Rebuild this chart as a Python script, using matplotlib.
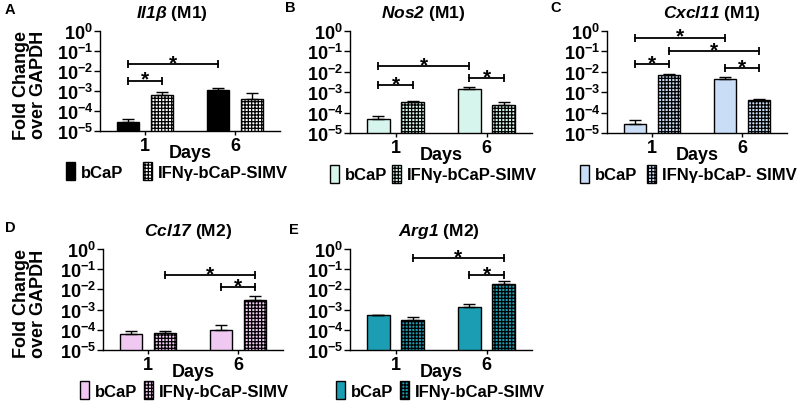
import numpy as np
import matplotlib
matplotlib.use("Agg")
import matplotlib.pyplot as plt
from matplotlib.patches import Patch

# === Data (log scale) ===
days = ["1", "6"]
series = ["bCaP", "IFNγ-bCaP-SIMV"]

il1b_bcap = [2.7e-5, 1.1e-3]
il1b_bcap_err = [1.3e-5, 2.8e-4]
il1b_ifn = [6.6e-4, 4.0e-4]
il1b_ifn_err = [2.3e-4, 3.6e-4]

nos2_bcap = [4.9e-5, 1.5e-3]
nos2_bcap_err = [1.7e-5, 2.0e-4]
nos2_ifn = [3.4e-4, 2.3e-4]
nos2_ifn_err = [4.0e-5, 1.2e-4]

cxcl11_bcap = [2.8e-5, 4.3e-3]
cxcl11_bcap_err = [1.7e-5, 1.0e-3]
cxcl11_ifn = [6.6e-3, 4.3e-4]
cxcl11_ifn_err = [1.2e-3, 4.0e-5]

ccl17_bcap = [6.0e-5, 9.5e-5]
ccl17_bcap_err = [2.9e-5, 7.5e-5]
ccl17_ifn = [6.8e-5, 3.1e-3]
ccl17_ifn_err = [1.7e-5, 1.4e-3]

arg1_bcap = [5.4e-4, 1.4e-3]
arg1_bcap_err = [2.0e-5, 6.0e-4]
arg1_ifn = [3.1e-4, 1.9e-2]
arg1_ifn_err = [1.1e-4, 8.0e-3]

# significance brackets: (bar a, bar b, height); bars 0=bCaP d1, 1=IFN d1, 2=bCaP d6, 3=IFN d6
il1b_sig = [(0, 1, 3.3e-3), (0, 2, 2.3e-2)]
nos2_sig = [(0, 1, 2.3e-3), (0, 2, 1.9e-2), (2, 3, 4.9e-3)]
cxcl11_sig = [(0, 2, 0.48), (1, 3, 0.10), (0, 1, 0.023), (2, 3, 0.015)]
ccl17_sig = [(1, 3, 0.052), (2, 3, 0.0126)]
arg1_sig = [(1, 3, 0.35), (2, 3, 0.052)]

# === Style ===
plt.rcParams["font.family"] = ["Liberation Sans", "DejaVu Sans"]
plt.rcParams["font.weight"] = "bold"
plt.rcParams["mathtext.fontset"] = "custom"
plt.rcParams["mathtext.rm"] = "Liberation Sans:italic:bold"   # gene names (digits too)
plt.rcParams["mathtext.it"] = "Liberation Sans:italic:bold"
plt.rcParams["mathtext.bf"] = "Liberation Sans:bold"          # tick labels
plt.rcParams["hatch.linewidth"] = 0.9

fig = plt.figure(figsize=(8, 4.06), dpi=100)
W, H = 800, 406


def px_axes(x0, y0, x1, y1):
    return fig.add_axes([x0 / W, 1 - y1 / H, (x1 - x0) / W, (y1 - y0) / H])


panels = [
    dict(letter="A", rect=(100, 32, 280, 132), gene=r"$\mathit{Il1\beta}$", tag="(M1)",
         bcap=il1b_bcap, bcap_err=il1b_bcap_err, ifn=il1b_ifn, ifn_err=il1b_ifn_err,
         sig=il1b_sig, color="black", ifn_face="white", ylabel=True,
         title_x=0.40, leg_right=288, colsp=1.2, ifn_name=series[1], lpos=(5, 10)),
    dict(letter="B", rect=(350, 32, 532, 134), gene=r"$\mathit{Nos2}$", tag="(M1)",
         bcap=nos2_bcap, bcap_err=nos2_bcap_err, ifn=nos2_ifn, ifn_err=nos2_ifn_err,
         sig=nos2_sig, color="#d6f5ec", ifn_face="#d6f5ec", ylabel=False,
         title_x=0.40, leg_right=537, colsp=0.3, ifn_name=series[1], lpos=(285, 8)),
    dict(letter="C", rect=(607, 32, 787, 134), gene=r"$\mathit{Cxcl11}$", tag="(M1)",
         bcap=cxcl11_bcap, bcap_err=cxcl11_bcap_err, ifn=cxcl11_ifn, ifn_err=cxcl11_ifn_err,
         sig=cxcl11_sig, color="#c9ddf6", ifn_face="#c9ddf6", ylabel=False,
         title_x=0.58, leg_right=797, colsp=0.6, ifn_name="IFNγ-bCaP- SIMV", lpos=(550, 8)),
    dict(letter="D", rect=(103, 250, 283, 351), gene=r"$\mathit{Ccl17}$", tag="(M2)",
         bcap=ccl17_bcap, bcap_err=ccl17_bcap_err, ifn=ccl17_ifn, ifn_err=ccl17_ifn_err,
         sig=ccl17_sig, color="#f0c9f3", ifn_face="#f0c9f3", ylabel=True,
         title_x=0.47, leg_right=289, colsp=0.4, ifn_name=series[1], lpos=(5, 228)),
    dict(letter="E", rect=(350, 250, 532, 351), gene=r"$\mathit{Arg1}$", tag="(M2)",
         bcap=arg1_bcap, bcap_err=arg1_bcap_err, ifn=arg1_ifn, ifn_err=arg1_ifn_err,
         sig=arg1_sig, color="#1b9db3", ifn_face="#1b9db3", ylabel=False,
         title_x=0.49, leg_right=545, colsp=0.4, ifn_name=series[1], lpos=(289, 230)),
]

x = np.arange(len(days))
off, bw = 0.19, 0.25
fs = 13
hatch = "+++++"
decades = [1e-5, 1e-4, 1e-3, 1e-2, 1e-1, 1e0]
dec_labels = [r"$\mathbf{10^{%d}}$" % int(np.log10(v)) for v in decades]

for p in panels:
    ax = px_axes(*p["rect"])
    ax.set_yscale("log")
    ax.bar(x - off, p["bcap"], bw, color=p["color"], edgecolor="black", linewidth=1,
           yerr=[np.zeros(2), p["bcap_err"]], capsize=4,
           error_kw=dict(elinewidth=1, capthick=1, ecolor="black"), zorder=2)
    ax.bar(x + off, p["ifn"], bw, color=p["ifn_face"], edgecolor="black", linewidth=1,
           hatch=hatch, yerr=[np.zeros(2), p["ifn_err"]], capsize=4,
           error_kw=dict(elinewidth=1, capthick=1, ecolor="black"), zorder=2)
    ax.set_ylim(1e-5, 1)
    ax.set_xlim(-0.5, 1.5)
    ax.set_yticks(decades)
    ax.set_yticklabels(dec_labels, fontsize=fs)
    ax.set_xticks(x)
    ax.set_xticklabels(days, fontsize=fs, fontweight="bold")
    ax.tick_params(axis="y", which="major", length=4, width=1, pad=1)
    ax.tick_params(axis="y", which="minor", length=1.5, width=0.6)
    ax.tick_params(axis="x", length=3, width=1, pad=1)
    for s in ["top", "right"]:
        ax.spines[s].set_visible(False)
    for s in ["left", "bottom"]:
        ax.spines[s].set_linewidth(1)
    ax.set_xlabel("Days", fontsize=fs, fontweight="bold", labelpad=-7)

    # significance brackets
    centers = [x[0] - off, x[0] + off, x[1] - off, x[1] + off]
    for a, b, yv in p["sig"]:
        xa, xb = centers[a], centers[b]
        ax.plot([xa, xb], [yv, yv], color="black", lw=1.3, zorder=3)
        ax.plot([xa, xb], [yv, yv], ls="none", marker="|", ms=6, mew=1.3,
                color="black", zorder=3)
        ax.annotate("*", ((xa + xb) / 2, yv), xytext=(0, -3), textcoords="offset points",
                    ha="center", va="baseline", fontsize=15, fontweight="bold")

    ax.set_title(p["gene"] + " " + p["tag"], fontsize=12.5, fontweight="bold",
                 x=p["title_x"], pad=10)
    if p["ylabel"]:
        ax.set_ylabel("Fold Change\nover GAPDH", fontsize=fs, fontweight="bold",
                      linespacing=1.0)
        x0 = p["rect"][0]
        ax.yaxis.set_label_coords((47 - x0) / 180, 0.47)

    handles = [Patch(facecolor=p["color"], edgecolor="black", linewidth=1),
               Patch(facecolor=p["ifn_face"], edgecolor="black", linewidth=1, hatch=hatch)]
    x0, y0, x1, y1 = p["rect"]
    ax.legend(handles, [series[0], p["ifn_name"]], loc="center right",
              bbox_to_anchor=((p["leg_right"] - x0) / (x1 - x0), -0.40), ncol=2,
              frameon=False, fontsize=12, handlelength=0.55, handleheight=1.3,
              handletextpad=0.35, columnspacing=p["colsp"], borderaxespad=0,
              borderpad=0)

    fig.text(p["lpos"][0] / W, 1 - p["lpos"][1] / H, p["letter"], fontsize=10.5,
             fontweight="bold", ha="left", va="center")

fig.savefig("out.png", dpi=100)
